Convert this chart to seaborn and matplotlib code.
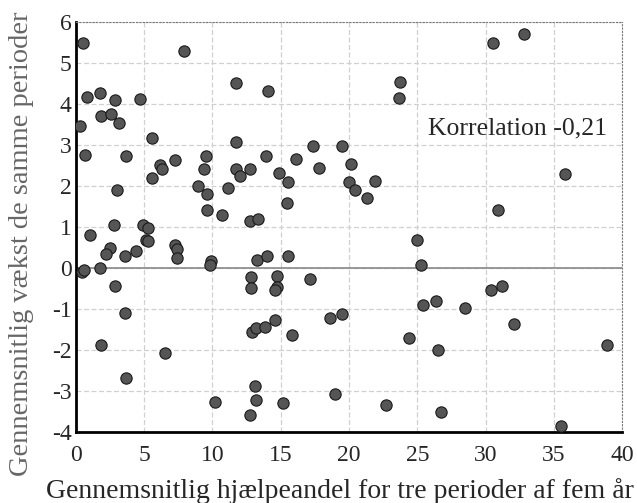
import numpy as np
import pandas as pd
import seaborn as sns
import matplotlib
matplotlib.use("Agg")
import matplotlib.pyplot as plt

# average aid share (x) and average growth (y)
aid_share = [
    0.54, 7.9, 0.83, 1.76, 2.9, 4.68, 1.85, 2.56, 3.17, 0.34,
    5.56, 0.66, 3.66, 6.15, 6.32, 7.29, 5.56, 3.0, 9.51, 9.41,
    8.95, 9.61, 9.61, 10.7, 2.8, 4.93, 5.29, 1.02, 2.49, 2.24,
    3.59, 4.44, 5.12, 5.29, 7.24, 7.37, 7.44, 9.93, 9.85, 0.49,
    0.61, 1.8, 2.85, 3.63, 1.88, 6.54, 3.66, 10.2, 11.74, 14.08,
    11.74, 11.15, 11.74, 12.05, 12.74, 13.91, 14.86, 15.55, 16.13, 17.37,
    17.81, 15.47, 12.74, 13.35, 19.45, 20.15, 19.98, 20.43, 13.27, 13.96,
    15.55, 12.81, 12.81, 14.74, 14.69, 14.6, 17.13, 12.86, 13.18, 13.84,
    14.57, 15.79, 18.59, 19.45, 13.15, 13.18, 12.74, 15.2, 18.96, 30.5,
    32.8, 23.72, 23.66, 21.89, 21.28, 35.8, 30.87, 24.99, 25.26, 30.36,
    31.19, 26.35, 25.43, 28.5, 32.09, 24.4, 26.5, 38.9, 22.69, 26.72,
    35.53,
]
growth = [
    5.48, 5.29, 4.16, 4.25, 4.08, 4.12, 3.70, 3.76, 3.53, 3.46,
    3.16, 2.75, 2.73, 2.50, 2.40, 2.62, 2.20, 1.89, 2.72, 2.40,
    1.99, 1.81, 1.42, 1.29, 1.04, 1.04, 0.98, 0.79, 0.49, 0.33,
    0.30, 0.41, 0.69, 0.65, 0.57, 0.46, 0.24, 0.16, 0.08, -0.11,
    -0.04, -0.01, -0.43, -1.09, -1.88, -2.07, -2.69, -3.27, 4.51, 4.30,
    3.07, 1.95, 2.40, 2.23, 2.42, 2.73, 2.30, 2.10, 2.66, 2.96,
    2.44, 1.59, 1.15, 1.20, 2.96, 2.54, 2.10, 1.90, 0.19, 0.28,
    0.28, -0.23, -0.50, -0.20, -0.47, -0.53, -0.28, -1.56, -1.46, -1.44,
    -1.27, -1.64, -1.23, -1.12, -2.87, -3.21, -3.58, -3.30, -3.07, 5.47,
    5.70, 4.52, 4.13, 2.12, 1.71, 2.29, 1.41, 0.69, 0.08, -0.54,
    -0.45, -0.80, -0.90, -0.97, -1.37, -1.71, -1.99, -1.88, -3.35, -3.51,
    -3.85,
]
x_ticks = [0, 5, 10, 15, 20, 25, 30, 35, 40]
y_ticks = [-4, -3, -2, -1, 0, 1, 2, 3, 4, 5, 6]
note = "Korrelation -0,21"

df = pd.DataFrame({"aid": aid_share, "growth": growth})

sns.set_style("white")
plt.rcParams["font.family"] = ["Liberation Serif", "DejaVu Serif"]
plt.rcParams["axes.unicode_minus"] = False

fig = plt.figure(figsize=(6.37, 5.03), dpi=100)
ax = fig.add_axes([0.119, 0.141, 0.858, 0.816])

ax.set_xlim(0, 40)
ax.set_ylim(-4, 6)
ax.set_xticks(x_ticks)
ax.set_yticks(y_ticks)
ax.set_xticklabels([str(t) for t in x_ticks], fontsize=17)
ax.set_yticklabels([str(t) for t in y_ticks], fontsize=17)
ax.tick_params(length=0)
ax.tick_params(axis="x", pad=9)
ax.tick_params(axis="y", pad=3)

ax.grid(True, color="#d0d0d0", linestyle=(0, (4, 2)), linewidth=0.9)
ax.set_axisbelow(True)
ax.axhline(0, color="#888888", linewidth=1.2, zorder=1)

sns.scatterplot(data=df, x="aid", y="growth", ax=ax, s=66,
                color="#555555", edgecolor="#1a1a1a", linewidth=0.8,
                zorder=3)

for side in ["left", "bottom"]:
    ax.spines[side].set_color("black")
    ax.spines[side].set_linewidth(2)
for side in ["top", "right"]:
    ax.spines[side].set_color("#777777")
    ax.spines[side].set_linewidth(0.8)
    ax.spines[side].set_linestyle((0, (1, 2)))

ax.text(25.8, 3.4, note, fontsize=18.5, ha="left", va="center")

ax.set_xlabel("Gennemsnitlig hjælpeandel for tre perioder af fem år",
              fontsize=20, va="center")
ax.xaxis.set_label_coords(0.4835, -0.144)
ax.set_ylabel("Gennemsnitlig vækst de samme perioder",
              fontsize=20.5, color="#666666", va="center")
ax.yaxis.set_label_coords(-0.099, 0.46)

fig.savefig("out.png", dpi=100)
